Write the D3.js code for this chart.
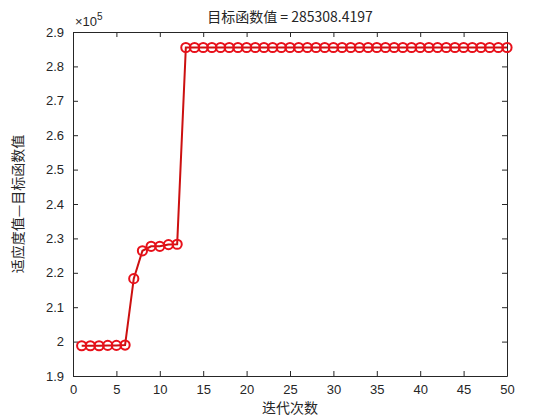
<!DOCTYPE html>
<html lang="en">
<head>
<meta charset="UTF-8">
<title>迭代曲线</title>
<script src="https://d3js.org/d3.v7.min.js"></script>
<style>
    body { margin: 0; background: #fff; }
    svg { display: block; }
    text { font-family: "Liberation Sans", Arial, sans-serif; fill: #262626; }
    .cjk { font-family: "Noto Sans CJK SC", sans-serif; }
</style>
</head>
<body>
<svg></svg>
<script>
// iteration values (x1e5)
const iterations = d3.range(1, 51);
const fitness = [
    1.988, 1.988, 1.988, 1.989, 1.989, 1.990, 2.183, 2.264, 2.277, 2.277,
    2.282, 2.283, 2.855, 2.855, 2.855, 2.855, 2.855, 2.855, 2.855, 2.855,
    2.855, 2.855, 2.855, 2.855, 2.855, 2.855, 2.855, 2.855, 2.855, 2.855,
    2.855, 2.855, 2.855, 2.855, 2.855, 2.855, 2.855, 2.855, 2.855, 2.855,
    2.855, 2.855, 2.855, 2.855, 2.855, 2.855, 2.855, 2.855, 2.855, 2.855
];
const xTicks = d3.range(0, 51, 5);
const yTicks = [1.9, 2, 2.1, 2.2, 2.3, 2.4, 2.5, 2.6, 2.7, 2.8, 2.9];
const titleText = "目标函数值 = 285308.4197";

const width = 560, height = 420;
const margin = { top: 32, right: 53, bottom: 44, left: 73 };
const w = width - margin.left - margin.right;
const h = height - margin.top - margin.bottom;

const svg = d3.select("svg").attr("width", width).attr("height", height);
const g = svg.append("g").attr("transform", `translate(${margin.left},${margin.top})`);

const x = d3.scaleLinear().domain([0, 50]).range([0, w]);
const y = d3.scaleLinear().domain([1.9, 2.9]).range([h, 0]);

// axes with inward ticks, box on
function styleAxis(sel) {
    sel.select(".domain").attr("stroke", "#262626");
    sel.selectAll(".tick line").attr("stroke", "#262626");
    sel.selectAll(".tick text").style("font-size", "13px").attr("fill", "#262626");
}
g.append("g").attr("transform", `translate(0,${h})`)
    .call(d3.axisBottom(x).tickValues(xTicks).tickSizeInner(-5).tickSizeOuter(0).tickPadding(9))
    .call(styleAxis);
g.append("g")
    .call(d3.axisLeft(y).tickValues(yTicks).tickFormat(d3.format("")).tickSizeInner(-5).tickSizeOuter(0).tickPadding(9))
    .call(styleAxis);
g.append("g")
    .call(d3.axisTop(x).tickValues(xTicks).tickSizeInner(-5).tickSizeOuter(0).tickFormat(""))
    .call(styleAxis);
g.append("g").attr("transform", `translate(${w},0)`)
    .call(d3.axisRight(y).tickValues(yTicks).tickSizeInner(-5).tickSizeOuter(0).tickFormat(""))
    .call(styleAxis);

// line
const line = d3.line().x((d, i) => x(iterations[i])).y(d => y(d));
g.append("path")
    .datum(fitness)
    .attr("fill", "none")
    .attr("stroke", "#cc1010")
    .attr("stroke-width", 2)
    .attr("d", line);

g.selectAll(".pt")
    .data(fitness)
    .join("circle")
    .attr("class", "pt")
    .attr("cx", (d, i) => x(iterations[i]))
    .attr("cy", d => y(d))
    .attr("r", 4.6)
    .attr("fill", "none")
    .attr("stroke", "#e8101a")
    .attr("stroke-width", 2);

// exponent label
const ex = svg.append("text")
    .attr("x", margin.left + 2)
    .attr("y", margin.top - 6)
    .style("font-size", "13px");
ex.append("tspan").text("\u00d710");
ex.append("tspan").attr("dy", -6).style("font-size", "10px").text("5");

// title
svg.append("text")
    .attr("class", "cjk")
    .attr("x", margin.left + w / 2)
    .attr("y", 22)
    .attr("text-anchor", "middle")
    .style("font-size", "14px")
    .text(titleText);

// axis labels
svg.append("text")
    .attr("class", "cjk")
    .attr("x", margin.left + w / 2)
    .attr("y", 413)
    .attr("text-anchor", "middle")
    .style("font-size", "14px")
    .text("迭代次数");

svg.append("text")
    .attr("class", "cjk")
    .attr("transform", `translate(23,${margin.top + h / 2}) rotate(-90)`)
    .attr("text-anchor", "middle")
    .style("font-size", "14px")
    .text("适应度值—目标函数值");
</script>
</body>
</html>
